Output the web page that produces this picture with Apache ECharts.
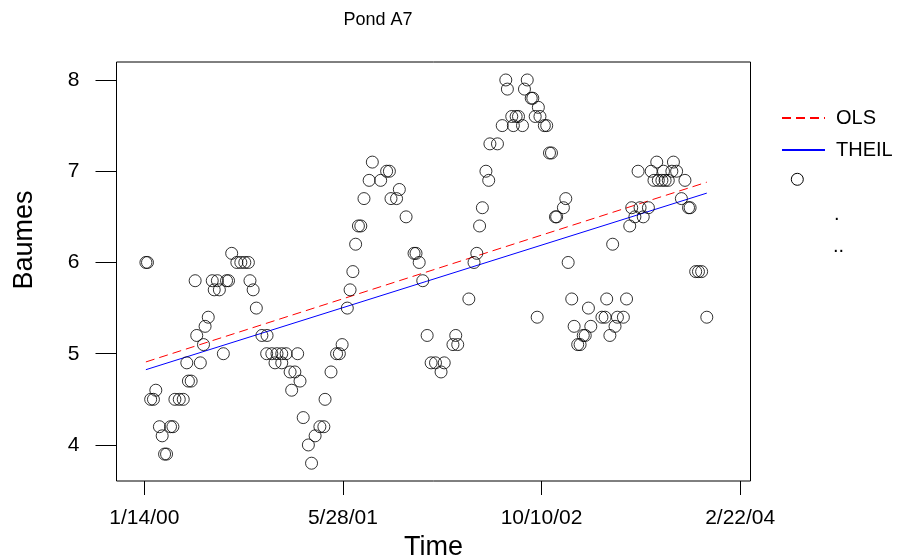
<!DOCTYPE html>
<html><head><meta charset="utf-8">
<script src="https://cdn.jsdelivr.net/npm/echarts@6/dist/echarts.min.js"></script>
<style>html,body{margin:0;padding:0;background:#fff}#c{width:898px;height:556px}</style>
</head><body><div id="c"></div>
<script>
// Days since 1/14/00 and Baumes readings
const days = [4,8,16,23,29,38,45,51,56,66,72,77,88,98,107,111,118,128,132,141,149,153,161,171,176,184,189,199,207,212,
  220,233,243,253,262,266,274,282,296,309,308,321,329,334,346,346,357,367,371,379,386,392,400,413,421,430,442,452,455,470,
  484,491,498,511,518,525,532,539,545,553,566,574,595,610,617,621,635,642,659,679,684,692,701,712,722,733,747,755,777,784,
  789,817,830,837,844,851,860,867,870,889,901,910,914,925,929,936,942,952,957,964,974,978,984,989,992,996,1007,1013,1020,1025,
  1035,1038,1055,1061,1067,1076,1082,1091,1097,1105,1110,1118,1124,1152,1160,1164,1172,1179,1185,1191,1206,1214,1222,1227,1235,1243,
  1248,1256,1269,1276,1283,1290,1294,1303,1307,1311,1319,1328,1332,1340,1352,1361,1370,1374,1388,1395,1403,1416];
const baumes = [6.0,6.0,4.5,4.5,4.6,4.2,4.1,3.9,3.9,4.2,4.2,4.5,4.5,4.5,4.9,4.7,4.7,5.8,5.2,4.9,5.1,5.3,5.4,5.8,5.7,5.8,5.7,5.0,5.8,5.8,
  6.1,6.0,6.0,6.0,6.0,5.8,5.7,5.5,5.2,5.2,5.0,5.0,4.9,5.0,4.9,5.0,5.0,4.8,4.6,4.8,5.0,4.7,4.3,4.0,3.8,4.1,4.2,4.2,4.5,4.8,
  5.0,5.0,5.1,5.5,5.7,5.9,6.2,6.4,6.4,6.7,6.9,7.1,6.9,7.0,7.0,6.7,6.7,6.8,6.5,6.1,6.1,6.0,5.8,5.2,4.9,4.9,4.8,4.9,5.1,5.2,
  5.1,5.6,6.0,6.1,6.4,6.6,7.0,6.9,7.3,7.3,7.5,8.0,7.9,7.6,7.5,7.6,7.6,7.5,7.9,8.0,7.8,7.8,7.6,5.4,7.7,7.6,7.5,7.5,7.2,7.2,
  6.5,6.5,6.6,6.7,6.0,5.6,5.3,5.1,5.1,5.2,5.2,5.5,5.3,5.4,5.4,5.6,5.2,6.2,5.3,5.4,5.4,5.6,6.4,6.6,6.5,7.0,
  6.6,6.5,6.6,7.0,6.9,7.1,6.9,6.9,7.0,6.9,6.9,7.0,7.1,7.0,6.7,6.9,6.6,6.6,5.9,5.9,5.9,5.4];
// Fitted lines (endpoint values)
const fitDays = [4,1416];
const olsFit = [4.91,6.88];
const theilFit = [4.825,6.76];
// Axis ticks
const xTickDays = [0,500,1000,1500];
const xTickLabels = ['1/14/00','5/28/01','10/10/02','2/22/04'];
const yTicks = [4,5,6,7,8];

const FONT = '"Liberation Sans", Arial, sans-serif';
const chart = echarts.init(document.getElementById('c'), null, {renderer:'canvas'});
const pts = days.map((d,i)=>[d, baumes[i]]);
chart.setOption({
  animation:false,
  backgroundColor:'#fff',
  grid:{left:116.5, top:62, width:634, height:419, show:true, borderColor:'#000', borderWidth:1,
    backgroundColor:'transparent', containLabel:false, outerBoundsMode:'none'},
  legend:{orient:'vertical', left:776, top:103, itemWidth:43, itemHeight:14, itemGap:12,
    itemStyle:{opacity:0},
    data:['OLS','THEIL'], textStyle:{fontSize:20, fontFamily:FONT, color:'#000', padding:[0,0,0,6]}},
  xAxis:{type:'value', min:-70, max:1526,
    name:'Time', nameLocation:'middle', nameGap:44, nameTextStyle:{fontSize:27, fontFamily:FONT, color:'#000'},
    axisLine:{show:false, onZero:false}, splitLine:{show:false},
    axisTick:{show:true, length:14, customValues:xTickDays, lineStyle:{color:'#000', width:1}},
    axisLabel:{customValues:xTickDays, margin:27, fontSize:21, fontFamily:FONT, color:'#000',
      formatter:v=>xTickLabels[xTickDays.indexOf(v)]}},
  yAxis:{type:'value', min:3.605, max:8.197,
    axisLine:{show:false, onZero:false}, splitLine:{show:false},
    axisTick:{show:true, length:21, customValues:yTicks, lineStyle:{color:'#000', width:1}},
    axisLabel:{customValues:yTicks, margin:37, fontSize:21, fontFamily:FONT, color:'#000'}},
  graphic:[
    {type:'text', style:{text:'Pond A7', x:378, y:20, fontSize:18, fontFamily:FONT, fill:'#000', align:'center', verticalAlign:'middle'}},
    {type:'text', rotation:Math.PI/2, x:25, y:240, style:{text:'Baumes', x:0, y:0, fontSize:27, fontFamily:FONT, fill:'#000', align:'center', verticalAlign:'middle'}},
    {type:'circle', shape:{cx:797.3, cy:179.3, r:6}, style:{fill:'none', stroke:'#000', lineWidth:1}},
    {type:'text', style:{text:'.', x:834, y:204, fontSize:20, fontFamily:FONT, fill:'#000'}},
    {type:'text', style:{text:'..', x:833, y:236, fontSize:20, fontFamily:FONT, fill:'#000'}}
  ],
  series:[
    {name:'Data', type:'scatter', data:pts, symbol:'circle', symbolSize:12,
      itemStyle:{color:'rgba(0,0,0,0)', borderColor:'#000', borderWidth:1}, z:3},
    {name:'OLS', type:'line', data:fitDays.map((d,i)=>[d, olsFit[i]]), symbol:'none',
      lineStyle:{color:'#ff0000', width:1, type:[9,5]}, itemStyle:{color:'#ff0000'}, z:2},
    {name:'THEIL', type:'line', data:fitDays.map((d,i)=>[d, theilFit[i]]), symbol:'none',
      lineStyle:{color:'#0000ff', width:1}, itemStyle:{color:'#0000ff'}, z:2}
  ]
});
</script></body></html>
